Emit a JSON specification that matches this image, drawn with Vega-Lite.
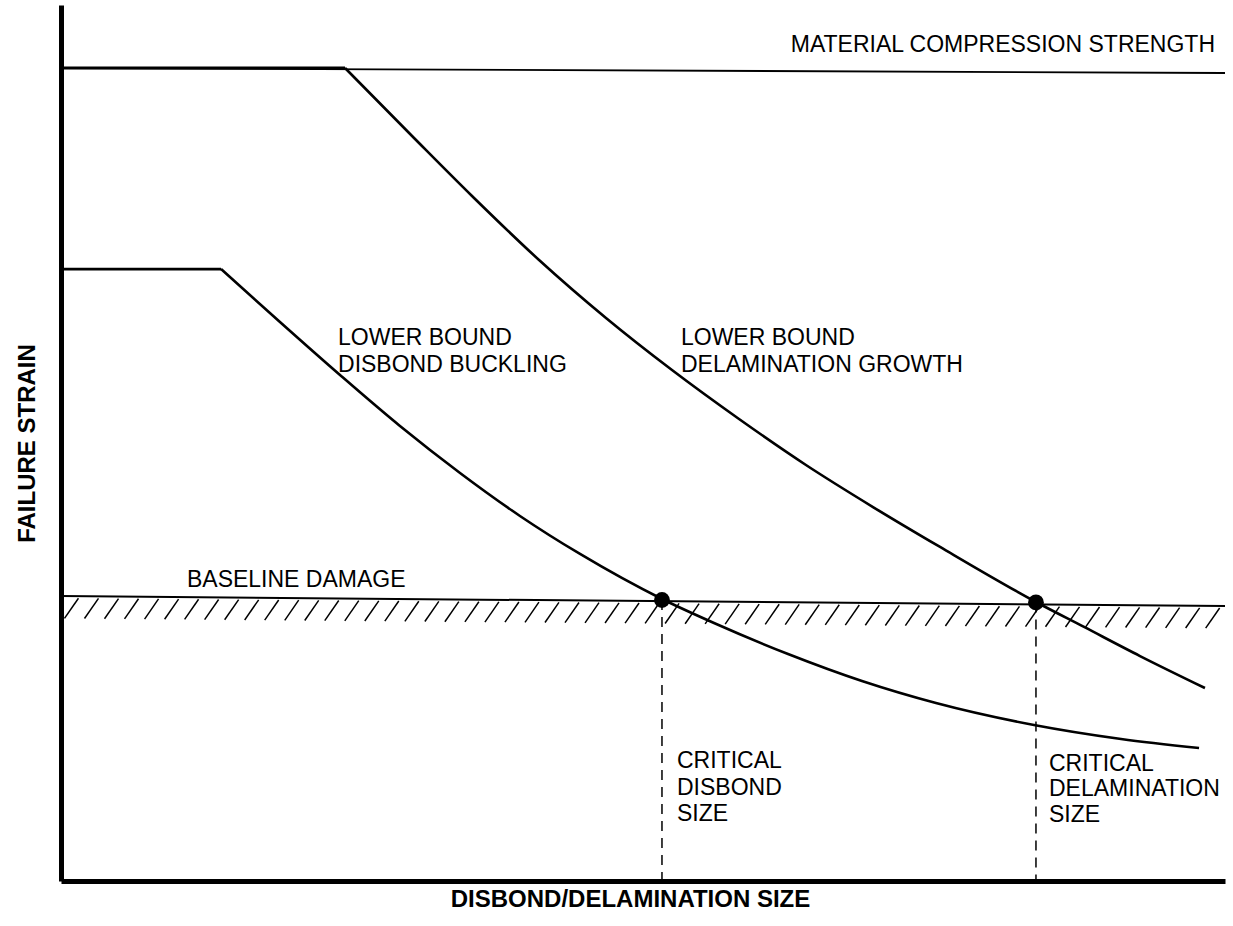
{
  "$schema": "https://vega.github.io/schema/vega-lite/v6.json",
  "width": 1164,
  "height": 876,
  "autosize": {"type": "none"},
  "padding": {"left": 61, "top": 5, "right": 8, "bottom": 45},
  "background": "white",
  "config": {"view": {"stroke": null}, "font": "Liberation Sans"},
  "datasets": {
    "hatch": [
      {"x": 0.3, "x2": 1.5, "y": 29.98, "y2": 32.28},
      {"x": 2.02, "x2": 3.22, "y": 29.96, "y2": 32.26},
      {"x": 3.74, "x2": 4.94, "y": 29.94, "y2": 32.24},
      {"x": 5.46, "x2": 6.66, "y": 29.92, "y2": 32.22},
      {"x": 7.18, "x2": 8.38, "y": 29.9, "y2": 32.2},
      {"x": 8.9, "x2": 10.1, "y": 29.88, "y2": 32.18},
      {"x": 10.62, "x2": 11.82, "y": 29.86, "y2": 32.16},
      {"x": 12.34, "x2": 13.54, "y": 29.84, "y2": 32.14},
      {"x": 14.06, "x2": 15.26, "y": 29.82, "y2": 32.12},
      {"x": 15.78, "x2": 16.98, "y": 29.8, "y2": 32.1},
      {"x": 17.5, "x2": 18.7, "y": 29.78, "y2": 32.08},
      {"x": 19.22, "x2": 20.42, "y": 29.76, "y2": 32.06},
      {"x": 20.94, "x2": 22.14, "y": 29.74, "y2": 32.04},
      {"x": 22.66, "x2": 23.86, "y": 29.72, "y2": 32.02},
      {"x": 24.38, "x2": 25.58, "y": 29.7, "y2": 32.0},
      {"x": 26.1, "x2": 27.3, "y": 29.68, "y2": 31.98},
      {"x": 27.82, "x2": 29.02, "y": 29.66, "y2": 31.96},
      {"x": 29.54, "x2": 30.74, "y": 29.64, "y2": 31.94},
      {"x": 31.26, "x2": 32.46, "y": 29.62, "y2": 31.92},
      {"x": 32.98, "x2": 34.18, "y": 29.6, "y2": 31.9},
      {"x": 34.7, "x2": 35.9, "y": 29.58, "y2": 31.88},
      {"x": 36.42, "x2": 37.62, "y": 29.56, "y2": 31.86},
      {"x": 38.14, "x2": 39.34, "y": 29.55, "y2": 31.85},
      {"x": 39.86, "x2": 41.06, "y": 29.53, "y2": 31.83},
      {"x": 41.58, "x2": 42.78, "y": 29.51, "y2": 31.81},
      {"x": 43.3, "x2": 44.5, "y": 29.49, "y2": 31.79},
      {"x": 45.02, "x2": 46.22, "y": 29.47, "y2": 31.77},
      {"x": 46.74, "x2": 47.94, "y": 29.45, "y2": 31.75},
      {"x": 48.46, "x2": 49.66, "y": 29.43, "y2": 31.73},
      {"x": 50.18, "x2": 51.38, "y": 29.41, "y2": 31.71},
      {"x": 51.9, "x2": 53.1, "y": 29.39, "y2": 31.69},
      {"x": 53.62, "x2": 54.82, "y": 29.37, "y2": 31.67},
      {"x": 55.34, "x2": 56.54, "y": 29.35, "y2": 31.65},
      {"x": 57.06, "x2": 58.26, "y": 29.33, "y2": 31.63},
      {"x": 58.78, "x2": 59.98, "y": 29.31, "y2": 31.61},
      {"x": 60.5, "x2": 61.7, "y": 29.29, "y2": 31.59},
      {"x": 62.22, "x2": 63.42, "y": 29.27, "y2": 31.57},
      {"x": 63.94, "x2": 65.14, "y": 29.25, "y2": 31.55},
      {"x": 65.66, "x2": 66.86, "y": 29.23, "y2": 31.53},
      {"x": 67.38, "x2": 68.58, "y": 29.21, "y2": 31.51},
      {"x": 69.1, "x2": 70.3, "y": 29.19, "y2": 31.49},
      {"x": 70.82, "x2": 72.02, "y": 29.17, "y2": 31.47},
      {"x": 72.54, "x2": 73.74, "y": 29.15, "y2": 31.45},
      {"x": 74.26, "x2": 75.46, "y": 29.13, "y2": 31.43},
      {"x": 75.98, "x2": 77.18, "y": 29.11, "y2": 31.41},
      {"x": 77.7, "x2": 78.9, "y": 29.09, "y2": 31.39},
      {"x": 79.42, "x2": 80.62, "y": 29.07, "y2": 31.37},
      {"x": 81.14, "x2": 82.34, "y": 29.05, "y2": 31.35},
      {"x": 82.86, "x2": 84.06, "y": 29.03, "y2": 31.33},
      {"x": 84.58, "x2": 85.78, "y": 29.02, "y2": 31.32},
      {"x": 86.3, "x2": 87.5, "y": 29.0, "y2": 31.3},
      {"x": 88.02, "x2": 89.22, "y": 28.98, "y2": 31.28},
      {"x": 89.74, "x2": 90.94, "y": 28.96, "y2": 31.26},
      {"x": 91.46, "x2": 92.66, "y": 28.94, "y2": 31.24},
      {"x": 93.18, "x2": 94.38, "y": 28.92, "y2": 31.22},
      {"x": 94.9, "x2": 96.1, "y": 28.9, "y2": 31.2},
      {"x": 96.62, "x2": 97.82, "y": 28.88, "y2": 31.18},
      {"x": 98.34, "x2": 99.54, "y": 28.86, "y2": 31.16}
    ],
    "baseline": [
      {"x": 0, "y": 32.53},
      {"x": 100, "y": 31.39}
    ],
    "material": [
      {"x": 0, "y": 92.81},
      {"x": 100, "y": 92.24}
    ],
    "flats": [
      {"curve": "delamination plateau", "x": 0, "y": 92.81},
      {"curve": "delamination plateau", "x": 24.4, "y": 92.81},
      {"curve": "disbond plateau", "x": 0, "y": 69.86},
      {"curve": "disbond plateau", "x": 13.75, "y": 69.86}
    ],
    "curves": [
      {"curve": "delamination", "x": 24.4, "y": 92.81},
      {"curve": "delamination", "x": 30.33, "y": 84.82},
      {"curve": "delamination", "x": 35.31, "y": 78.2},
      {"curve": "delamination", "x": 41.07, "y": 70.89},
      {"curve": "delamination", "x": 46.82, "y": 64.27},
      {"curve": "delamination", "x": 52.49, "y": 58.33},
      {"curve": "delamination", "x": 58.25, "y": 52.74},
      {"curve": "delamination", "x": 64.0, "y": 47.49},
      {"curve": "delamination", "x": 69.76, "y": 42.69},
      {"curve": "delamination", "x": 75.52, "y": 38.13},
      {"curve": "delamination", "x": 83.76, "y": 31.85},
      {"curve": "delamination", "x": 87.89, "y": 29.0},
      {"curve": "delamination", "x": 92.7, "y": 25.68},
      {"curve": "delamination", "x": 98.28, "y": 22.03},
      {"curve": "disbond", "x": 13.75, "y": 69.86},
      {"curve": "disbond", "x": 18.81, "y": 63.81},
      {"curve": "disbond", "x": 23.97, "y": 57.76},
      {"curve": "disbond", "x": 29.12, "y": 51.94},
      {"curve": "disbond", "x": 34.28, "y": 46.58},
      {"curve": "disbond", "x": 39.43, "y": 41.67},
      {"curve": "disbond", "x": 44.59, "y": 37.33},
      {"curve": "disbond", "x": 51.63, "y": 32.19},
      {"curve": "disbond", "x": 56.1, "y": 29.45},
      {"curve": "disbond", "x": 62.46, "y": 25.91},
      {"curve": "disbond", "x": 68.81, "y": 22.83},
      {"curve": "disbond", "x": 75.17, "y": 20.32},
      {"curve": "disbond", "x": 83.59, "y": 17.81},
      {"curve": "disbond", "x": 91.07, "y": 16.21},
      {"curve": "disbond", "x": 97.77, "y": 15.18}
    ],
    "critical": [
      {"name": "Critical disbond size", "x": 51.63, "y": 32.08, "y0": 0},
      {"name": "Critical delamination size", "x": 83.76, "y": 31.8, "y0": 0}
    ],
    "labels": [
      {"text": "LOWER BOUND", "x": 23.8, "y": 62.0},
      {"text": "DISBOND BUCKLING", "x": 23.8, "y": 58.9},
      {"text": "LOWER BOUND", "x": 53.26, "y": 62.0},
      {"text": "DELAMINATION GROWTH", "x": 53.26, "y": 58.9},
      {"text": "BASELINE DAMAGE", "x": 10.82, "y": 34.36},
      {"text": "CRITICAL", "x": 52.92, "y": 13.7},
      {"text": "DISBOND", "x": 52.92, "y": 10.62},
      {"text": "SIZE", "x": 52.92, "y": 7.65},
      {"text": "CRITICAL", "x": 84.88, "y": 13.36},
      {"text": "DELAMINATION", "x": 84.88, "y": 10.5},
      {"text": "SIZE", "x": 84.88, "y": 7.53}
    ],
    "toplabel": [
      {"text": "MATERIAL COMPRESSION STRENGTH", "x": 99.14, "y": 95.4}
    ]
  },
  "encoding": {
    "x": {
      "field": "x", "type": "quantitative",
      "scale": {"domain": [0, 100], "nice": false, "zero": false},
      "axis": {
        "title": "DISBOND/DELAMINATION SIZE",
        "ticks": false, "labels": false, "grid": false,
        "domainColor": "black", "domainWidth": 5,
        "titleFont": "Liberation Sans", "titleFontSize": 24, "titleFontWeight": "bold",
        "titleColor": "black", "titlePadding": 6, "titleX": 569
      }
    },
    "y": {
      "field": "y", "type": "quantitative",
      "scale": {"domain": [0, 100], "nice": false, "zero": false},
      "axis": {
        "title": "FAILURE STRAIN",
        "ticks": false, "labels": false, "grid": false,
        "domainColor": "black", "domainWidth": 5,
        "titleFont": "Liberation Sans", "titleFontSize": 24, "titleFontWeight": "bold",
        "titleColor": "black", "titlePadding": 22
      }
    }
  },
  "layer": [
    {
      "data": {"name": "hatch"},
      "mark": {"type": "rule", "color": "black", "strokeWidth": 1.5},
      "encoding": {
        "x2": {"field": "x2"},
        "y2": {"field": "y2"}
      }
    },
    {
      "data": {"name": "baseline"},
      "mark": {"type": "line", "color": "black", "strokeWidth": 2},
      "encoding": {}
    },
    {
      "data": {"name": "material"},
      "mark": {"type": "line", "color": "black", "strokeWidth": 1.8},
      "encoding": {}
    },
    {
      "data": {"name": "flats"},
      "mark": {"type": "line", "color": "black", "strokeWidth": 2.8},
      "encoding": {"detail": {"field": "curve"}}
    },
    {
      "data": {"name": "curves"},
      "mark": {"type": "line", "color": "black", "strokeWidth": 2.6, "interpolate": "monotone"},
      "encoding": {"detail": {"field": "curve"}}
    },
    {
      "data": {"name": "critical"},
      "mark": {"type": "rule", "color": "black", "strokeWidth": 1.5, "strokeDash": [10, 7]},
      "encoding": {"y2": {"field": "y0"}}
    },
    {
      "data": {"name": "critical"},
      "mark": {"type": "point", "shape": "circle", "filled": true, "color": "black", "opacity": 1, "size": 250},
      "encoding": {}
    },
    {
      "data": {"name": "labels"},
      "mark": {"type": "text", "align": "left", "baseline": "middle", "font": "Liberation Sans", "fontSize": 23, "color": "black"},
      "encoding": {"text": {"field": "text"}}
    },
    {
      "data": {"name": "toplabel"},
      "mark": {"type": "text", "align": "right", "baseline": "middle", "font": "Liberation Sans", "fontSize": 23, "color": "black"},
      "encoding": {"text": {"field": "text"}}
    }
  ]
}
